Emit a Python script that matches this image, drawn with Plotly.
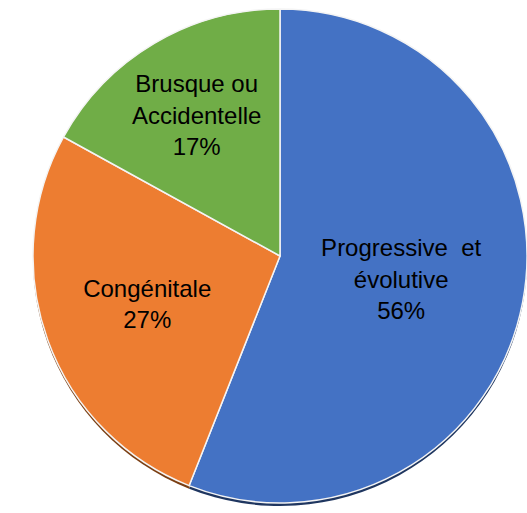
import plotly.graph_objects as go

categories = ["Progressive et évolutive", "Congénitale", "Brusque ou Accidentelle"]
display_labels = ["Progressive  et<br>évolutive", "Congénitale", "Brusque ou<br>Accidentelle"]
values = [56, 27, 17]
colors = ["#4472C4", "#ED7D31", "#70AD47"]
shadow_colors = ["#1F3660", "#7A3E12", "#3B5E22"]

W, H = 527, 513
cx, cy, r = 280, 256, 247
dom_x = [(cx - r) / W, min(1.0, (cx + r) / W)]
dom_y = [(H - (cy + r)) / H, (H - (cy - r)) / H]
off = 3 / H
shadow_y = [dom_y[0] - off, dom_y[1] - off]

fig = go.Figure()
fig.add_trace(go.Pie(
    labels=categories,
    values=values,
    textinfo="none",
    marker=dict(colors=shadow_colors, line=dict(color="rgba(0,0,0,0)", width=0)),
    sort=False,
    direction="clockwise",
    rotation=0,
    showlegend=False,
    domain=dict(x=dom_x, y=shadow_y),
    hoverinfo="skip",
))
fig.add_trace(go.Pie(
    labels=categories,
    values=values,
    text=display_labels,
    texttemplate="%{text}<br>%{percent:.0%}",
    textposition="inside",
    insidetextorientation="horizontal",
    textfont=dict(family="Liberation Sans, Arial, sans-serif", size=24, color="black"),
    marker=dict(colors=colors, line=dict(color="#f4f4f4", width=1.5)),
    sort=False,
    direction="clockwise",
    rotation=0,
    showlegend=False,
    domain=dict(x=dom_x, y=dom_y),
    hoverinfo="label+percent",
))
fig.update_layout(
    width=W, height=H,
    margin=dict(l=0, r=0, t=0, b=0),
    paper_bgcolor="white",
    plot_bgcolor="white",
    uniformtext=dict(minsize=24, mode="show"),
)
fig.write_html("out.html", config={"displayModeBar": False},
               post_script="document.body.style.margin='0';")
